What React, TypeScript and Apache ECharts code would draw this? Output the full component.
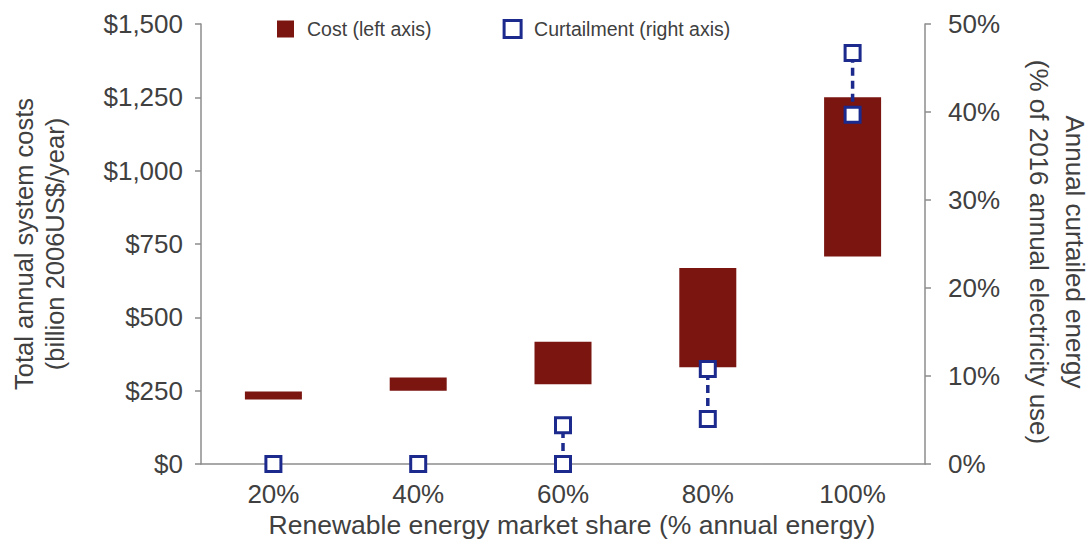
import React, { useEffect, useRef } from "react";
import * as echarts from "echarts";

const categories = ["20%", "40%", "60%", "80%", "100%"];
const costLow = [220, 250, 272, 330, 707];
const costHigh = [247, 295, 417, 668, 1250];
const curtailLow = [0, 0, 0, 5.1, 39.7];
const curtailHigh = [0, 0, 4.4, 10.8, 46.7];
const leftTicks = { min: 0, max: 1500, interval: 250 };
const rightTicks = { min: 0, max: 50, interval: 10 };

const RED = "#7a1510";
const NAVY = "#1b2a8c";
const TXT = "#404040";
const AX = "#8c8c8c";
const FONT = "Liberation Sans, Arial, sans-serif";

export default function App() {
  const ref = useRef<HTMLDivElement>(null);
  useEffect(() => {
    document.body.style.margin = "0";
    document.body.style.overflow = "hidden";
    const chart = echarts.init(ref.current!, null, { renderer: "svg" });
    const range = costHigh.map((h, i) => h - costLow[i]);
    const points: number[][] = [];
    categories.forEach((_, i) => {
      points.push([i, curtailLow[i]]);
      if (curtailHigh[i] !== curtailLow[i]) points.push([i, curtailHigh[i]]);
    });
    chart.setOption({
      animation: false,
      textStyle: { fontFamily: FONT },
      grid: {
        left: 201,
        right: 165,
        top: 24,
        bottom: 86,
        containLabel: false,
        outerBoundsMode: "none",
      },
      legend: {
        top: 14,
        left: 272,
        itemWidth: 17,
        itemHeight: 17,
        itemGap: 71,
        textStyle: { fontSize: 19.5, color: TXT, fontFamily: FONT, padding: [0, 0, 0, 8] },
        data: [
          { name: "Cost (left axis)", icon: "rect", itemStyle: { color: RED } },
          {
            name: "Curtailment (right axis)",
            icon: "rect",
            itemStyle: { color: "#fff", borderColor: NAVY, borderWidth: 3 },
          },
        ],
      },
      xAxis: {
        type: "category",
        data: categories,
        name: "Renewable energy market share (% annual energy)",
        nameLocation: "middle",
        nameGap: 45,
        nameTextStyle: {
          fontSize: 26.5,
          color: TXT,
          fontFamily: FONT,
          padding: [0, 0, 0, 18],
        },
        axisLine: { lineStyle: { color: AX, width: 1.5 } },
        axisTick: { length: 6, lineStyle: { color: AX, width: 1.5 } },
        axisLabel: { fontSize: 26, color: TXT, margin: 17, fontFamily: FONT },
      },
      yAxis: [
        {
          type: "value",
          ...leftTicks,
          name: "Total annual system costs\n(billion 2006US$/year)",
          nameLocation: "middle",
          nameGap: 131,
          nameTextStyle: { fontSize: 25.5, color: TXT, lineHeight: 31, fontFamily: FONT },
          axisLine: { show: true, lineStyle: { color: AX, width: 1.5 } },
          axisTick: { show: true, length: 6, lineStyle: { color: AX, width: 1.5 } },
          splitLine: { show: false },
          axisLabel: {
            fontSize: 26,
            color: TXT,
            margin: 18,
            fontFamily: FONT,
            formatter: (v: number) => "$" + v.toLocaleString("en-US"),
          },
        },
        {
          type: "value",
          ...rightTicks,
          position: "right",
          name: "Annual curtailed energy\n(% of 2016 annual electricity use)",
          nameLocation: "middle",
          nameRotate: -90,
          nameGap: 96,
          nameTextStyle: {
            fontSize: 26,
            color: TXT,
            lineHeight: 36,
            fontFamily: FONT,
            padding: [0, 0, 0, 16],
          },
          axisLine: { show: true, lineStyle: { color: AX, width: 1.5 } },
          axisTick: { show: true, length: 6, lineStyle: { color: AX, width: 1.5 } },
          splitLine: { show: false },
          axisLabel: {
            fontSize: 26,
            color: TXT,
            margin: 23,
            fontFamily: FONT,
            formatter: "{value}%",
          },
        },
      ],
      series: [
        {
          name: "base",
          type: "bar",
          stack: "cost",
          barWidth: 57,
          itemStyle: { color: "transparent" },
          data: costLow,
          silent: true,
        },
        {
          name: "Cost (left axis)",
          type: "bar",
          stack: "cost",
          barWidth: 57,
          itemStyle: { color: RED },
          data: range,
        },
        {
          name: "curtail-range",
          type: "custom",
          yAxisIndex: 1,
          z: 3,
          data: categories.map((_, i) => [i, curtailLow[i], curtailHigh[i]]),
          renderItem: (params: any, api: any) => {
            const i = api.value(0);
            const a = api.coord([i, api.value(1)]);
            const b = api.coord([i, api.value(2)]);
            return {
              type: "line",
              shape: { x1: a[0], y1: a[1], x2: b[0], y2: b[1] },
              style: { stroke: NAVY, lineWidth: 3.5, lineDash: [8, 5] },
            };
          },
        },
        {
          name: "Curtailment (right axis)",
          type: "scatter",
          yAxisIndex: 1,
          z: 4,
          clip: false,
          symbol: "rect",
          symbolSize: 15,
          itemStyle: { color: "#fff", borderColor: NAVY, borderWidth: 3, opacity: 1 },
          data: points,
        },
      ],
    });
    return () => chart.dispose();
  }, []);
  return <div ref={ref} style={{ width: 1090, height: 550 }} />;
}
